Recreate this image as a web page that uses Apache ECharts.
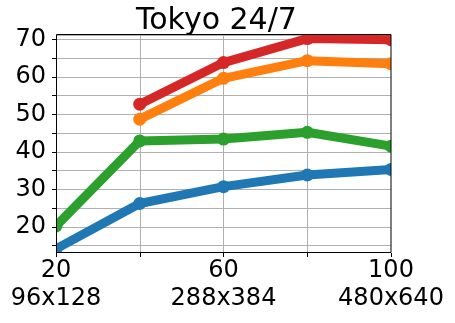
<!DOCTYPE html>
<html>
<head>
<meta charset="utf-8">
<script src="https://cdn.jsdelivr.net/npm/echarts@6/dist/echarts.min.js"></script>
<style>
html,body{margin:0;padding:0;background:#fff;}
#chart{width:455px;height:323px;}
</style>
</head>
<body>
<div id="chart"></div>
<script>
// ---- data ----
var titleText = 'Tokyo 24/7';
var xValues = [20, 40, 60, 80, 100];
var seriesBlue = [14.1, 26.2, 30.7, 33.8, 35.3];
var seriesOrange = [null, 48.7, 59.6, 64.3, 63.5];
var seriesGreen = [20.2, 42.9, 43.4, 45.2, 41.5];
var seriesRed = [null, 52.7, 63.8, 70.2, 69.9];
var xTickLabelValues = [20, 60, 100];
var xTickSubLabels = ['96x128', '288x384', '480x640'];
var seriesColors = ['#1f77b4', '#ff7f0e', '#2ca02c', '#d62728'];
var xMin = 20, xMax = 100, xStep = 20;
var yMin = 13, yMax = 71.15, yStep = 5;

function pairs(ys) {
  var out = [];
  for (var i = 0; i < xValues.length; i++) {
    if (ys[i] !== null) out.push([xValues[i], ys[i]]);
  }
  return out;
}

var FONT = 'DejaVu Sans';
var W = 455, H = 323;
var chart = echarts.init(document.getElementById('chart'), null, {renderer: 'canvas'});

function mkSeries(data, color) {
  return {
    type: 'line',
    xAxisIndex: 0, yAxisIndex: 0,
    data: pairs(data),
    symbol: 'circle',
    symbolSize: 13,
    showSymbol: true,
    clip: true,
    z: 2,
    lineStyle: {color: color, width: 9, cap: 'round', join: 'round'},
    itemStyle: {color: color, borderWidth: 0},
    emphasis: {disabled: true},
    animation: false
  };
}

var gridLineStyle = {color: '#b0b0b0', width: 1};

chart.setOption({
  animation: false,
  title: {
    text: titleText,
    left: 131,
    top: 1,
    z: 20,
    textStyle: {fontFamily: FONT, fontSize: 30, fontWeight: 'normal', color: '#000'}
  },
  grid: {
    left: 56, right: 64, top: 35, bottom: 70,
    show: false
  },
  xAxis: [{
    type: 'value', position: 'bottom',
    min: xMin, max: xMax, interval: xStep,
    z: 0,
    axisLine: {show: false}, axisTick: {show: false}, axisLabel: {show: false},
    splitLine: {show: true, lineStyle: gridLineStyle}
  }, {
    type: 'value', position: 'bottom', offset: 0,
    min: xMin, max: xMax, interval: xStep,
    z: 10,
    axisLine: {show: false},
    axisTick: {show: true, length: 4, lineStyle: {color: '#000'}},
    splitLine: {show: false},
    axisLabel: {
      margin: 4,
      fontFamily: FONT, fontSize: 24, color: '#000', lineHeight: 28,
      formatter: function (v) {
        var idx = xTickLabelValues.indexOf(v);
        return idx >= 0 ? v + '\n' + xTickSubLabels[idx] : '';
      }
    }
  }],
  yAxis: [{
    type: 'value', position: 'left',
    min: yMin, max: yMax, minInterval: yStep, maxInterval: yStep,
    z: 0,
    axisLine: {show: false}, axisTick: {show: false}, axisLabel: {show: false},
    splitLine: {show: true, lineStyle: gridLineStyle}
  }, {
    type: 'value', position: 'left', offset: 0,
    min: yMin, max: yMax, minInterval: yStep, maxInterval: yStep,
    z: 10,
    axisLine: {show: false},
    axisTick: {show: true, length: 4, lineStyle: {color: '#000'}},
    splitLine: {show: false},
    axisLabel: {
      margin: 10,
      fontFamily: FONT, fontSize: 24, color: '#000',
      showMinLabel: false, showMaxLabel: false,
      formatter: function (v) { return (Math.abs(v % 10) < 1e-9) ? String(v) : ''; }
    }
  }],
  series: [
    mkSeries(seriesBlue, seriesColors[0]),
    mkSeries(seriesOrange, seriesColors[1]),
    mkSeries(seriesGreen, seriesColors[2]),
    mkSeries(seriesRed, seriesColors[3])
  ]
});

// plot-area rectangle from the library's own scales
var p0 = chart.convertToPixel({xAxisIndex: 0, yAxisIndex: 0}, [xMin, yMax]);
var p1 = chart.convertToPixel({xAxisIndex: 0, yAxisIndex: 0}, [xMax, yMin]);
var L = Math.round(p0[0]), T = Math.round(p0[1]), R = Math.round(p1[0]), B = Math.round(p1[1]);
var white = {fill: '#fff', stroke: null};
chart.setOption({
  graphic: [
    {type: 'rect', z: 5, silent: true, shape: {x: 0, y: 0, width: L, height: H}, style: white},
    {type: 'rect', z: 5, silent: true, shape: {x: R, y: 0, width: W - R, height: H}, style: white},
    {type: 'rect', z: 5, silent: true, shape: {x: 0, y: 0, width: W, height: T}, style: white},
    {type: 'rect', z: 5, silent: true, shape: {x: 0, y: B, width: W, height: H - B}, style: white},
    {type: 'rect', z: 9, silent: true,
      shape: {x: L + 0.5, y: T - 0.5, width: R - L - 0.5, height: B - T},
      style: {fill: null, stroke: '#000', lineWidth: 1}}
  ]
});
</script>
</body>
</html>
